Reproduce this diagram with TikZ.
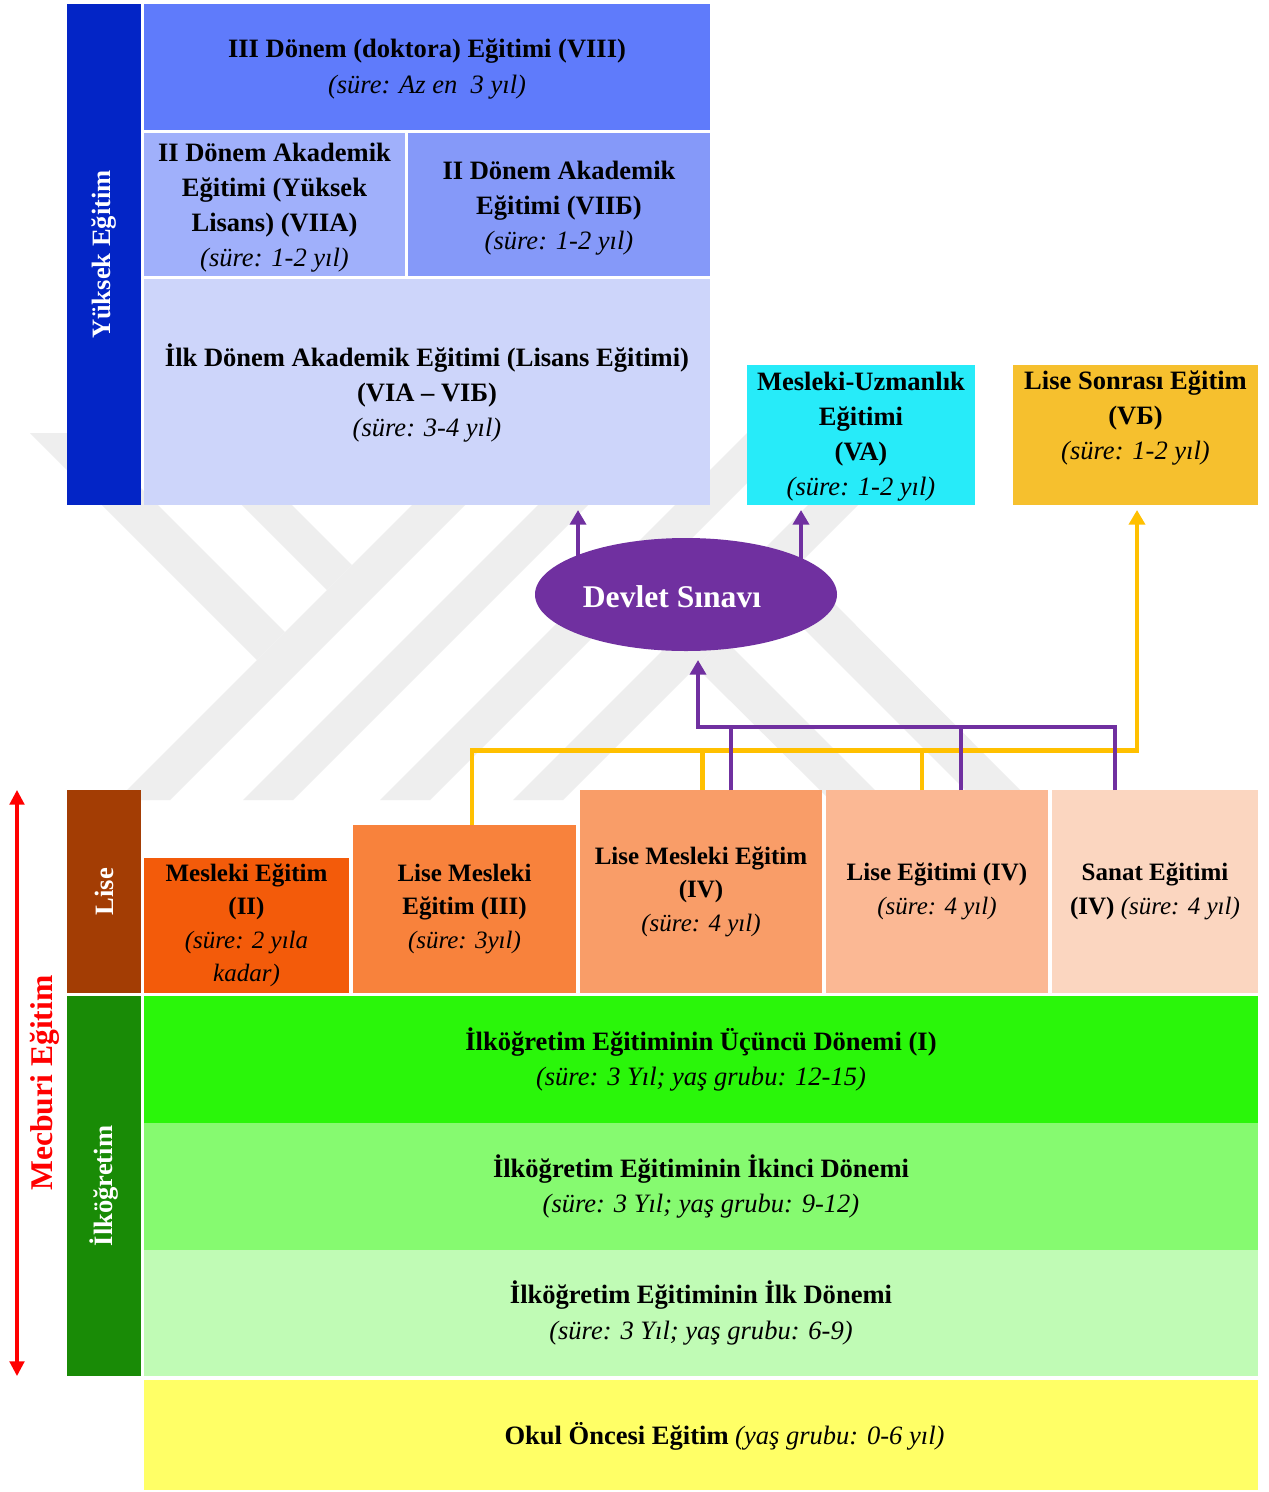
\documentclass[tikz,border=0pt]{standalone}
\usepackage{fontspec}
\setmainfont{Liberation Serif}
\usetikzlibrary{shapes.geometric,arrows.meta,calc}
\pgfdeclarelayer{wm}
\pgfdeclarelayer{bg}
\pgfsetlayers{wm,bg,main}
\definecolor{cyuk}{HTML}{0325C6}
\definecolor{cdoc}{HTML}{5F7BFB}
\definecolor{cviia}{HTML}{A0B0FB}
\definecolor{cviib}{HTML}{8599F9}
\definecolor{clis}{HTML}{CDD5FA}
\definecolor{cva}{HTML}{27EBF9}
\definecolor{cvb}{HTML}{F6C02E}
\definecolor{purp}{HTML}{7030A0}
\definecolor{gold}{HTML}{FFC000}
\definecolor{clise}{HTML}{A33D04}
\definecolor{cmii}{HTML}{F35B0A}
\definecolor{cmiii}{HTML}{F8823C}
\definecolor{cmiv}{HTML}{F99D68}
\definecolor{cle}{HTML}{FBB894}
\definecolor{csa}{HTML}{FBD6C0}
\definecolor{cilk}{HTML}{198B06}
\definecolor{ci}{HTML}{2AF60A}
\definecolor{cii}{HTML}{86FA70}
\definecolor{ciii}{HTML}{C0FBB5}
\definecolor{cok}{HTML}{FFFF66}
\definecolor{wmgray}{HTML}{EEEEEE}
\newcommand\szA{\fontsize{19.9pt}{26.3pt}\selectfont}
\newcommand\szB{\fontsize{18.75pt}{25.1pt}\selectfont}
\newcommand\szC{\fontsize{23.7pt}{28pt}\selectfont}
\tikzset{
  wh/.style 2 args={minimum width=#1*0.75pt, minimum height=#2*0.75pt},
  blk/.style={inner sep=0pt, outer sep=0pt, draw=none, align=center, text=black, font=\szA},
  lbox/.style={blk, font=\szB},
  bar/.style={inner sep=0pt, outer sep=0pt, draw=none},
  vlab/.style={rotate=90, text=white, font=\szA\bfseries, inner sep=0pt},
  pline/.style={draw=purp, line width=3.5pt},
  parrow/.style={pline, -{Triangle[width=12pt,length=11pt]}},
  yline/.style={draw=gold, line width=3.5pt},
  yarrow/.style={yline, -{Triangle[width=12pt,length=11pt]}},
  wmark/.style={fill=wmgray},
}
\begin{document}
\begin{tikzpicture}[x=0.75pt,y=-0.75pt]
\useasboundingbox (0,0) rectangle (1269,1492);
\begin{pgfonlayer}{wm}
\fill[white] (0,0) rectangle (1269,1492);
% watermark bands
\fill[wmark] (30,433) -- (86,433) -- (285,632) -- (257,660) -- cycle;
\fill[wmark] (170,433) -- (220,433) -- (352,565) -- (327,590) -- cycle;
\fill[wmark] (117,800) -- (170,800) -- (537,433) -- (484,433) -- cycle;
\fill[wmark] (243,800) -- (293,800) -- (660,433) -- (610,433) -- cycle;
\fill[wmark] (380,800) -- (430,800) -- (797,433) -- (747,433) -- cycle;
\fill[wmark] (513,800) -- (563,800) -- (930,433) -- (880,433) -- cycle;
\fill[wmark] (696,667) -- (724,639) -- (885,800) -- (830,800) -- cycle;
\fill[wmark] (769,594) -- (797,566) -- (1030,800) -- (975,800) -- cycle;
\end{pgfonlayer}

% Higher education
\node[bar, fill=cyuk, wh={74}{501}] (yuk) at (104,254.5) {};
\node[vlab] (yukT) at (yuk.center) {Yüksek Eğitim};
\node[bar, fill=cdoc, wh={566}{126}] (doc) at (427,67) {};
\node[blk] (docT) at (427,69)
  {\textbf{III Dönem (doktora) Eğitimi (VIII)}\\\textit{(süre: Az en\ \ 3 yıl)}};
\node[bar, fill=cviia, wh={261}{143}] (viia) at (274.5,204.5) {};
\node[blk] (viiaT) at (274.5,207.5)
  {\textbf{II Dönem Akademik}\\\textbf{Eğitimi (Yüksek}\\\textbf{Lisans) (VIIA)}\\\textit{(süre: 1-2 yıl)}};
\node[bar, fill=cviib, wh={302}{143}] (viib) at (559,204.5) {};
\node[blk] (viibT) at (559,208)
  {\textbf{II Dönem Akademik}\\\textbf{Eğitimi (VIIБ)}\\\textit{(süre: 1-2 yıl)}};
\node[bar, fill=clis, wh={566}{226}] (lis) at (427,392) {};
\node[blk] (lisT) at (427,393)
  {\textbf{İlk Dönem Akademik Eğitimi (Lisans Eğitimi)}\\\textbf{(VIA – VIБ)}\\\textit{(süre: 3-4 yıl)}};
\node[bar, fill=cva, wh={228}{140}] (va) at (861,435) {};
\node[blk] (vaT) at (861,437)
  {\textbf{Mesleki-Uzmanlık}\\\textbf{Eğitimi}\\\textbf{(VA)}\\\textit{(süre: 1-2 yıl)}};
\node[bar, fill=cvb, wh={245}{140}] (vb) at (1135.5,435) {};
\node[blk] (vbT) at (1135.5,418)
  {\textbf{Lise Sonrası Eğitim}\\\textbf{(VБ)}\\\textit{(süre: 1-2 yıl)}};

% exam
\node[ellipse, fill=purp, draw=none, inner sep=0pt, wh={302}{113}] (ell) at (686,594.5) {};
\node[text=white, font=\szC\bfseries, inner sep=0pt] (ellT) at (672,597) {Devlet Sınavı};

% Lise
\node[bar, fill=clise, wh={74}{203}] (lise) at (104,891.5) {};
\node[vlab] (liseT) at (lise.center) {Lise};
\node[lbox, fill=cmii, wh={205}{135}] (m2) at (246.5,925.5)
  {\textbf{Mesleki Eğitim}\\\textbf{(II)}\\\textit{(süre: 2 yıla}\\\textit{kadar)}};
\node[lbox, fill=cmiii, wh={223}{168}] (m3) at (464.5,909)
  {\textbf{Lise Mesleki}\\\textbf{Eğitim (III)}\\\textit{(süre: 3yıl)}};
\node[lbox, fill=cmiv, wh={242}{203}] (m4) at (701,891.5)
  {\textbf{Lise Mesleki Eğitim}\\\textbf{(IV)}\\\textit{(süre: 4 yıl)}};
\node[lbox, fill=cle, wh={222}{203}] (le) at (937,891.5)
  {\textbf{Lise Eğitimi (IV)}\\\textit{(süre: 4 yıl)}};
\node[lbox, fill=csa, wh={206}{203}] (sa) at (1155,891.5)
  {\textbf{Sanat Eğitimi}\\\textbf{(IV)} \textit{(süre: 4 yıl)}};

% Ilkogretim
\node[bar, fill=cilk, wh={74}{380}] (ilk) at (104,1186) {};
\node[vlab] (ilkT) at (ilk.center) {İlköğretim};
\node[blk, fill=ci, wh={1114}{127}] (i1) at (701,1059.5)
  {\textbf{İlköğretim Eğitiminin Üçüncü Dönemi (I)}\\\textit{(süre: 3 Yıl; yaş grubu: 12-15)}};
\node[blk, fill=cii, wh={1114}{127}] (i2) at (701,1186.5)
  {\textbf{İlköğretim Eğitiminin İkinci Dönemi}\\\textit{(süre: 3 Yıl; yaş grubu: 9-12)}};
\node[blk, fill=ciii, wh={1114}{126}] (i3) at (701,1313)
  {\textbf{İlköğretim Eğitiminin İlk Dönemi}\\\textit{(süre: 3 Yıl; yaş grubu: 6-9)}};
\node[bar, fill=cok, wh={1114}{110}] (okul) at (701,1435) {};
\node[blk] (okulT) at (724.5,1436)
  {\textbf{Okul Öncesi Eğitim} \textit{(yaş grubu: 0-6 yıl)}};

% Mecburi
\coordinate (ra1) at (17,790);
\coordinate (ra2) at (17,1376);
\draw[red, line width=2.3pt, {Triangle[width=11pt,length=11pt]}-{Triangle[width=11pt,length=11pt]}] (ra1) -- (ra2);
\node[rotate=90, text=red, font=\szC\bfseries, inner sep=0pt] (mec) at (45,1083) {Mecburi Eğitim};

% connectors
\coordinate (t1) at (578,510);
\coordinate (t2) at (801,510);
\coordinate (pj) at (698,727);
\coordinate (pt) at (698,660);
\coordinate (yj) at (1137,750.5);
\coordinate (yt) at (1137,510);
\begin{pgfonlayer}{bg}
\draw[parrow] (t1 |- ell.center) -- (t1);
\draw[parrow] (t2 |- ell.center) -- (t2);
\end{pgfonlayer}
\draw[yarrow] ([xshift=5.6pt]m3.north) |- (yj) -- (yt);
\draw[yline] ([xshift=1.1pt]m4.north) -- ([xshift=1.1pt]m4.north |- yj);
\draw[yline] ([xshift=-11.25pt]le.north) -- ([xshift=-11.25pt]le.north |- yj);
\draw[parrow] ([xshift=-30pt]sa.north) |- (pj) -- (pt);
\draw[pline] ([xshift=22.5pt]m4.north) -- ([xshift=22.5pt]m4.north |- pj);
\draw[pline] ([xshift=18pt]le.north) -- ([xshift=18pt]le.north |- pj);
\end{tikzpicture}
\end{document}
